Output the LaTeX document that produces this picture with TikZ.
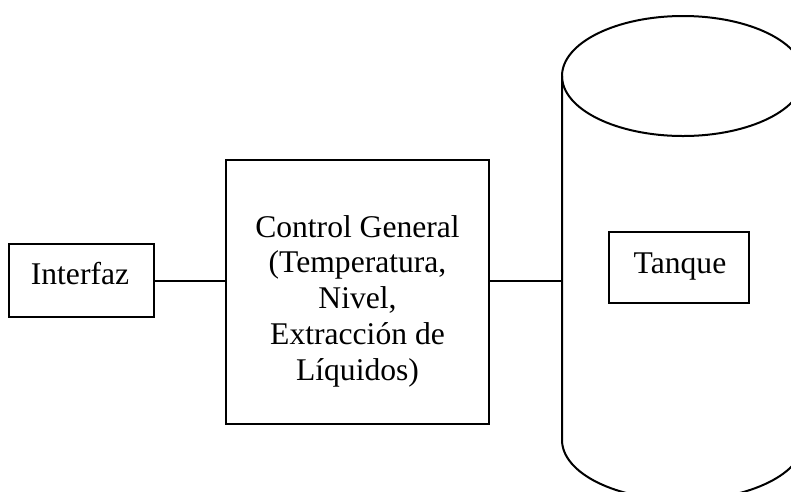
\documentclass[tikz,border=0pt]{standalone}
\usepackage{fontspec}
\setmainfont{Liberation Serif}
\begin{document}
\begin{tikzpicture}[x=1pt,y=-1pt,
  box/.style={draw, line width=2pt, inner sep=0pt},
  wire/.style={line width=2pt},
  lbl/.style={font=\fontsize{31.6}{35.8}\selectfont, inner sep=0pt, align=center}]
  \useasboundingbox (0,0) rectangle (791,491);

  % blocks
  \node[box, minimum width=145pt, minimum height=73pt] (interfaz) at (81.5,280.5) {};
  \node[lbl, anchor=base] (interfaztxt) at (80,284) {Interfaz};

  \node[box, minimum width=263pt, minimum height=264pt] (control) at (357.5,292) {};
  \node[lbl] (controltxt) at (357.5,301) {Control General\\(Temperatura,\\Nivel,\\Extracción de\\Líquidos)};

  % tank body: top rim, side walls and rounded bottom
  \draw[wire] (683,76) ellipse [x radius=121, y radius=60];
  \draw[wire] (562,76) -- (562,440) arc[start angle=180, end angle=0, x radius=121, y radius=60] -- (804,76);
  \coordinate (tankwall) at (562,280.5);

  \node[box, minimum width=140pt, minimum height=71pt] (tanque) at (679,267.5) {};
  \node[lbl, anchor=base] (tanquetxt) at (680,273) {Tanque};

  % connections
  \draw[wire] (interfaz.east) -- (interfaz.east -| control.west);
  \draw[wire] (interfaz.east -| control.east) -- (tankwall);
\end{tikzpicture}
\end{document}
